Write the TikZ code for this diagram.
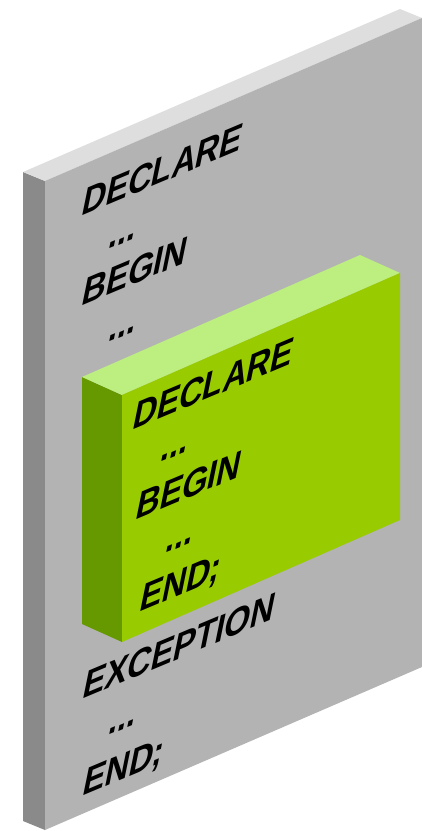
\documentclass[tikz,border=0pt]{standalone}
\usepackage{fontspec}
\setmainfont{Liberation Sans}
\definecolor{slabfront}{HTML}{B3B3B3}
\definecolor{slabtop}{HTML}{DEDEDE}
\definecolor{slabside}{HTML}{8A8A8A}
\definecolor{boxfront}{HTML}{99CC00}
\definecolor{boxtop}{HTML}{BDEE80}
\definecolor{boxside}{HTML}{669900}
\newcommand{\codefont}{\fontsize{33}{36}\selectfont\bfseries}
\begin{document}
\begin{tikzpicture}[x=1pt,y=-1pt,
  code/.style={font=\codefont, text=black, inner sep=0pt, anchor=base west,
               cm={1,0.42,0.25,1.22,(0,0)}}]
\useasboundingbox (0,0) rectangle (422,831);

% outer block: front face corners
\coordinate (sTL) at (45,181);
\coordinate (sTR) at (422,18);
\coordinate (sBL) at (45,830);
\coordinate (sBR) at (422,667);
% outer block: back corners
\coordinate (sbTL) at (23,172);
\coordinate (sbTR) at (400,9);
\coordinate (sbBL) at (23,821);

\fill[slabside] (sbTL) -- (sTL) -- (sBL) -- (sbBL) -- cycle;
\fill[slabtop] (sbTL) -- (sbTR) -- (sTR) -- (sTL) -- cycle;
\fill[slabfront] (sTL) -- (sTR) -- (sBR) -- (sBL) -- cycle;

% inner block: front face corners
\coordinate (gTL) at (122,395);
\coordinate (gTR) at (400,273);
\coordinate (gBL) at (122,642);
\coordinate (gBR) at (400,520);
% inner block: back corners
\coordinate (gbTL) at (82,377);
\coordinate (gbTR) at (360,255);
\coordinate (gbBL) at (82,624);

\fill[boxside] (gbTL) -- (gTL) -- (gBL) -- (gbBL) -- cycle;
\fill[boxtop] (gbTL) -- (gbTR) -- (gTR) -- (gTL) -- cycle;
\fill[boxfront] (gTL) -- (gTR) -- (gBR) -- (gBL) -- cycle;

% outer block text
\node[code] (oDecl)  at (80,217) {DECLARE};
\node[code] (oDots1) at (107,250) {...};
\node[code] (oBegin) at (80,307) {BEGIN};
\node[code] (oDots2) at (107,343) {...};
\node[code] (oExc)   at (81,700) {EXCEPTION};
\node[code] (oDots3) at (107,736) {...};
\node[code] (oEnd)   at (81,797) {END;};

% inner block text
\node[code] (iDecl)  at (131,431) {DECLARE};
\node[code] (iDots1) at (159,463) {...};
\node[code] (iBegin) at (134,521) {BEGIN};
\node[code] (iDots2) at (164,554) {...};
\node[code] (iEnd)   at (138,613) {END;};
\end{tikzpicture}
\end{document}
